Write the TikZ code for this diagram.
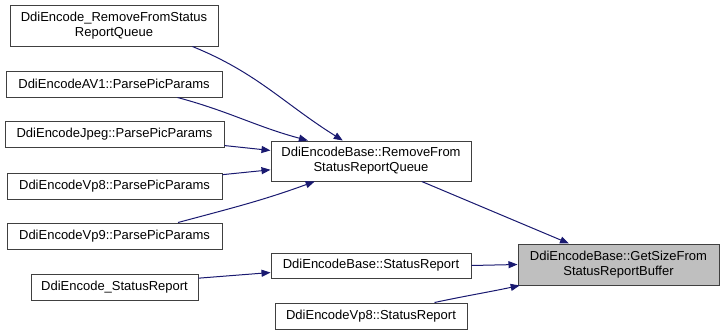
\documentclass[tikz,border=0pt]{standalone}
\usepackage{fontspec}
\setmainfont{Liberation Sans}
\usetikzlibrary{arrows.meta}
\definecolor{edgeblue}{HTML}{191970}
\definecolor{boxgrey}{HTML}{404040}
\definecolor{hilite}{HTML}{BFBFBF}

\begin{document}
\begin{tikzpicture}[x=1pt,y=-1pt,>={Triangle[length=9pt,width=7pt]},
  font=\fontsize{13}{15}\selectfont,
  fn/.style={draw=boxgrey,line width=1pt,fill=white,inner sep=0pt,align=center,minimum height=26pt},
  call/.style={->,edgeblue,line width=1pt}]

\useasboundingbox (0,0) rectangle (724,335);

% --- Chiamanti a sinistra
\node[fn,minimum width=208pt,minimum height=41pt] (rmqDdi) at (114,25.5) {DdiEncode\_RemoveFromStatus\\ReportQueue};
\node[fn,minimum width=216pt] (av1) at (114,84) {DdiEncodeAV1::ParsePicParams};
\node[fn,minimum width=219pt] (jpeg) at (114.5,134) {DdiEncodeJpeg::ParsePicParams};
\node[fn,minimum width=215pt] (vp8pic) at (114.5,186) {DdiEncodeVp8::ParsePicParams};
\node[fn,minimum width=215pt] (vp9pic) at (114.5,236) {DdiEncodeVp9::ParsePicParams};
\node[fn,minimum width=167pt] (srDdi) at (114.5,287) {DdiEncode\_StatusReport};

% --- Livello intermedio
\node[fn,minimum width=200pt,minimum height=40pt] (rmqBase) at (371,161) {DdiEncodeBase::RemoveFrom\\StatusReportQueue};
\node[fn,minimum width=200pt,minimum height=25pt] (srBase) at (371,265.5) {DdiEncodeBase::StatusReport};
\node[fn,minimum width=192pt] (srVp8) at (371,316) {DdiEncodeVp8::StatusReport};

% --- Funzione di partenza
\node[fn,fill=hilite,minimum width=201pt,minimum height=41pt] (getSize) at (618.5,264.5) {DdiEncodeBase::GetSizeFrom\\StatusReportBuffer};

% --- Archi
\draw[call] (rmqDdi.-15) to[out=-22,in=148] (rmqBase.144);
\draw[call] (av1.-12) to[out=-15,in=165] (rmqBase.162);
\draw[call] (jpeg.-6) -- (rmqBase.174);
\draw[call] (vp8pic.6) -- (rmqBase.-175);
\draw[call] (vp9pic.12) to[out=15,in=-160] (rmqBase.-160);
\draw[call] (rmqBase.-22) -- (getSize.157);
\draw[call] (srDdi.6) -- (srBase.-176);
\draw[call] (srBase.east) -- (getSize.west);
\draw[call] (srVp8.12) to[out=12,in=-168] (getSize.-168);

\end{tikzpicture}
\end{document}
